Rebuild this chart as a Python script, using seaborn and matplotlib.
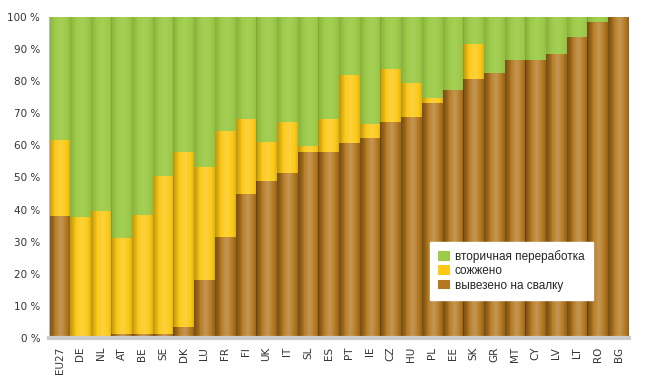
import pandas as pd
import numpy as np
import matplotlib
matplotlib.use('Agg')
import matplotlib.pyplot as plt
import seaborn as sns

# countries, sorted by share of landfill
countries = ['EU27', 'DE', 'NL', 'AT', 'BE', 'SE', 'DK', 'LU', 'FR', 'FI',
             'UK', 'IT', 'SL', 'ES', 'PT', 'IE', 'CZ', 'HU', 'PL', 'EE',
             'SK', 'GR', 'MT', 'CY', 'LV', 'LT', 'RO', 'BG']
# % of municipal waste
landfill = [38, 0.5, 0, 1.2, 1.2, 1.2, 3.5, 18, 31.5, 44.8,
            48.9, 51.3, 58, 58, 60.8, 62.4, 67.4, 68.7, 73.3, 77.3,
            80.7, 82.7, 86.7, 86.7, 88.5, 93.9, 98.3, 100]
incinerated = [23.7, 37.2, 39.6, 29.8, 37.2, 49.2, 54.3, 35.3, 33, 23.4,
               12.2, 16.1, 1.9, 10.1, 21.2, 4.3, 16.3, 10.7, 1.4, 0,
               10.9, 0, 0, 0, 0, 0, 0, 0]
recycled = [100 - a - b for a, b in zip(landfill, incinerated)]

lbl_rec = 'вторичная переработка'
lbl_inc = 'сожжено'
lbl_land = 'вывезено на свалку'

df = pd.DataFrame({'country': countries, 'landfill': landfill,
                   'incinerated': incinerated, 'recycled': recycled})
df['top'] = df['landfill'] + df['incinerated'] + df['recycled']
df['mid'] = df['landfill'] + df['incinerated']

green = '#9dcb48'
yellow = '#fcc917'
brown = '#b47820'

sns.set_style('white')
plt.rcParams['font.family'] = ['Liberation Sans Narrow', 'Liberation Sans', 'DejaVu Sans']

fig = plt.figure(figsize=(6.47, 3.78), dpi=100)
ax = fig.add_axes([0.076, 0.106, 0.896, 0.849])

# stacked bars: draw cumulative totals from the top down
sns.barplot(data=df, x='country', y='top', color=green, width=1.0,
            saturation=1, ax=ax, label=lbl_rec, linewidth=0)
sns.barplot(data=df, x='country', y='mid', color=yellow, width=1.0,
            saturation=1, ax=ax, label=lbl_inc, linewidth=0)
sns.barplot(data=df, x='country', y='landfill', color=brown, width=1.0,
            saturation=1, ax=ax, label=lbl_land, linewidth=0)

# soft cylinder-like shading on every bar
xs = np.linspace(0, 1, 40)
shade = np.zeros((1, 40, 4))
dark = np.clip(0.13 * (1 - xs / 0.3), 0, None) + np.clip(0.06 * (xs - 0.85) / 0.15, 0, None)
light = 0.08 * np.exp(-((xs - 0.55) / 0.2) ** 2)
shade[0, :, :3] = np.where(dark[:, None] > light[:, None], 0.0, 1.0)
shade[0, :, 3] = np.maximum(dark, light)
for p in list(ax.patches):
    if p.get_height() <= 0:
        continue
    x0, y0 = p.get_x(), p.get_y()
    im = ax.imshow(shade, extent=[x0, x0 + p.get_width(), y0, y0 + p.get_height()],
                   aspect='auto', interpolation='bilinear', zorder=p.get_zorder() + 0.1)
    im.set_clip_path(p)

ax.set_xlim(-0.5, len(countries) - 0.5)
ax.set_ylim(0, 100)
ax.set_yticks(range(0, 101, 10))
ax.set_yticklabels([f'{v} %' for v in range(0, 101, 10)], fontsize=7.5,
                   family=['DejaVu Sans'], color='#333333')
ax.tick_params(axis='x', labelrotation=90, labelsize=7.5, length=3, colors='#333333')
for t in ax.get_xticklabels():
    t.set_family(['DejaVu Sans'])
ax.tick_params(axis='y', length=3, colors='#333333')
ax.set_xlabel('')
ax.set_ylabel('')
for s in ['top', 'right']:
    ax.spines[s].set_visible(False)
ax.spines['left'].set_color('#bbbbbb')
ax.spines['bottom'].set_color('#cccccc')
ax.spines['bottom'].set_linewidth(3)

leg = ax.legend(loc='lower right', bbox_to_anchor=(0.948, 0.10), fontsize=8.5,
                frameon=True, fancybox=False, framealpha=1, edgecolor='white',
                handlelength=1.0, handleheight=0.9, handletextpad=0.4,
                borderpad=0.7, labelspacing=0.2)
leg.set_zorder(10)

fig.savefig('out.png', dpi=100)
